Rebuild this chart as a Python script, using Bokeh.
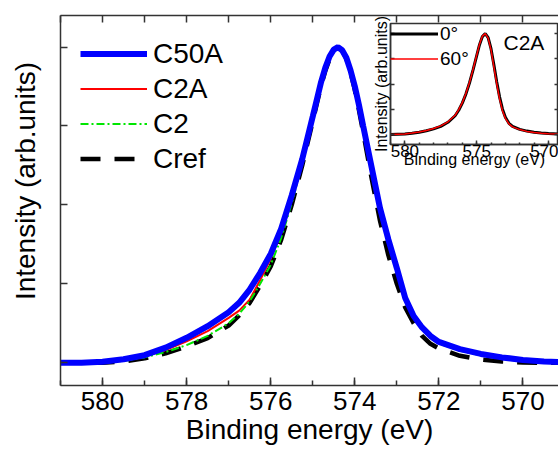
from bokeh.embed import file_html
from bokeh.layouts import column
from bokeh.models import (ColumnDataSource, CustomJSTickFormatter, FixedTicker,
                          Label, Legend, LegendItem, LinearAxis, Range1d)
from bokeh.plotting import figure
from bokeh.resources import INLINE

FONT = "Liberation Sans"
AXIS_COLOR = "#333333"
NBSP = "\u00a0"
W, H = 558, 453

# ---- main panel: C 1s-like spectra, normalised intensity vs binding energy (eV)
energy = [581.0, 580.5, 580.0, 579.5, 579.0, 578.5, 578.0, 577.5, 577.0, 576.75,
          576.5, 576.25, 576.0, 575.75, 575.5, 575.25, 575.0, 574.9, 574.8, 574.7,
          574.6, 574.5, 574.4, 574.3, 574.2, 574.1, 574.0, 573.9, 573.8, 573.6,
          573.4, 573.2, 573.0, 572.8, 572.6, 572.4, 572.2, 572.0, 571.5, 571.0,
          570.5, 570.0, 569.5, 569.15]

c50a = [0.0, 0.0, 0.003, 0.011, 0.024, 0.048, 0.079, 0.116, 0.160, 0.190,
        0.232, 0.285, 0.345, 0.425, 0.530, 0.645, 0.780, 0.835, 0.890, 0.935,
        0.970, 0.992, 1.0, 0.990, 0.966, 0.926, 0.876, 0.816, 0.750, 0.620,
        0.490, 0.390, 0.300, 0.205, 0.148, 0.112, 0.085, 0.066, 0.043, 0.028,
        0.017, 0.009, 0.004, 0.002]

c2a = [0.0, 0.0, 0.002, 0.008, 0.020, 0.040, 0.068, 0.100, 0.142, 0.165,
       0.200, 0.262, 0.330, 0.410, 0.515, 0.637, 0.775, 0.830, 0.885, 0.930,
       0.966, 0.990, 1.0, 0.990, 0.965, 0.924, 0.874, 0.814, 0.748, 0.618,
       0.488, 0.388, 0.298, 0.203, 0.146, 0.110, 0.083, 0.064, 0.041, 0.026,
       0.015, 0.008, 0.003, 0.001]

c2 = [0.0, 0.0, 0.001, 0.006, 0.017, 0.034, 0.056, 0.085, 0.125, 0.155,
      0.195, 0.250, 0.310, 0.395, 0.505, 0.630, 0.770, 0.826, 0.880, 0.927,
      0.963, 0.990, 1.0, 0.990, 0.964, 0.923, 0.872, 0.812, 0.746, 0.615,
      0.485, 0.385, 0.295, 0.200, 0.143, 0.107, 0.080, 0.061, 0.038, 0.023,
      0.013, 0.006, 0.002, 0.0]

cref = [0.0, 0.0, 0.0, 0.004, 0.014, 0.030, 0.052, 0.078, 0.118, 0.150,
        0.190, 0.245, 0.305, 0.390, 0.500, 0.625, 0.765, 0.822, 0.878, 0.925,
        0.962, 0.990, 1.0, 0.990, 0.963, 0.920, 0.865, 0.800, 0.730, 0.585,
        0.450, 0.340, 0.250, 0.175, 0.125, 0.085, 0.060, 0.045, 0.022, 0.010,
        0.004, 0.001, 0.0, 0.0]

series_names = ["C50A", "C2A", "C2", "Cref"]

x_ticks = [570, 572, 574, 576, 578, 580]
x_minor = [569, 570, 571, 572, 573, 574, 575, 576, 577, 578, 579, 580, 581]
y_ticks = [0.0, 0.25, 0.5, 0.75, 1.0]

# ---- inset: C2A at two take-off angles
inset_energy = [581.0, 580.0, 579.5, 579.0, 578.5, 578.0, 577.5, 577.0, 576.5,
                576.25, 576.0, 575.75, 575.5, 575.25, 575.0, 574.8, 574.6, 574.4,
                574.2, 574.0, 573.8, 573.6, 573.4, 573.2, 573.0, 572.75, 572.5,
                572.0, 571.5, 571.0, 570.5, 570.0, 569.3]
angle_0 = [0.0, 0.005, 0.012, 0.022, 0.036, 0.055, 0.080, 0.120, 0.185,
           0.240, 0.310, 0.400, 0.510, 0.640, 0.780, 0.890, 0.970, 1.0,
           0.960, 0.850, 0.690, 0.520, 0.370, 0.250, 0.170, 0.110, 0.080,
           0.050, 0.033, 0.022, 0.014, 0.008, 0.003]
angle_60 = [0.0, 0.005, 0.013, 0.024, 0.038, 0.058, 0.085, 0.125, 0.190,
            0.245, 0.315, 0.405, 0.515, 0.645, 0.785, 0.895, 0.975, 1.0,
            0.955, 0.840, 0.670, 0.500, 0.350, 0.235, 0.160, 0.105, 0.075,
            0.048, 0.030, 0.020, 0.012, 0.007, 0.003]
inset_names = ["0°", "60°"]
inset_x_ticks = [570, 575, 580]


def style_axis(ax, tick_in, minor_in=0, labels=True, size="26px"):
    ax.axis_line_color = AXIS_COLOR
    ax.axis_line_width = 1.5
    ax.major_tick_line_color = AXIS_COLOR
    ax.major_tick_line_width = 1.5
    ax.major_tick_in = tick_in
    ax.major_tick_out = 0
    ax.minor_tick_line_color = AXIS_COLOR if minor_in else None
    ax.minor_tick_line_width = 1.5
    ax.minor_tick_in = minor_in
    ax.minor_tick_out = 0
    ax.major_label_text_font = FONT
    ax.major_label_text_color = "black"
    if labels:
        ax.major_label_text_font_size = size
    else:
        # tick marks only, no numbers on this side
        ax.formatter = CustomJSTickFormatter(code="return ''")
        ax.major_label_text_font_size = "1px"
        ax.major_label_standoff = 0


def style_title(ax, text, size, standoff):
    ax.axis_label = text
    ax.axis_label_text_font = FONT
    ax.axis_label_text_font_size = size
    ax.axis_label_text_font_style = "normal"
    ax.axis_label_text_color = "black"
    ax.axis_label_standoff = standoff


# ================= main figure =================
# a few pixels taller than the page; the column clips the overhang
p = figure(width=W, height=H + 3,
           x_range=Range1d(581.0, 569.154), y_range=Range1d(-0.072, 1.100),
           output_backend="svg", toolbar_location=None,
           min_border_left=60, min_border_right=0,
           min_border_top=15, min_border_bottom=68)
p.outline_line_color = None
p.grid.visible = False
p.background_fill_color = "white"
p.border_fill_color = "white"

src = ColumnDataSource(dict(e=energy, c50a=c50a, c2a=c2a, c2=c2, cref=cref))
r_ref = p.line("e", "cref", source=src, line_color="black", line_width=4.5,
               line_dash="20 14")
r_c2a = p.line("e", "c2a", source=src, line_color="#FF0000", line_width=2)
r_c2 = p.line("e", "c2", source=src, line_color="#00E600", line_width=2,
              line_dash="8 3 2 3")
r_c50 = p.line("e", "c50a", source=src, line_color="#0000FF", line_width=6)

xb = p.xaxis[0]
xb.ticker = FixedTicker(ticks=x_ticks, minor_ticks=x_minor)
style_axis(xb, 8, 5)
xb.major_label_standoff = 6
style_title(xb, "Binding energy (eV)", "28px", 1)

yl = p.yaxis[0]
yl.ticker = FixedTicker(ticks=y_ticks)
style_axis(yl, 7, labels=False)
# leading no-break spaces lift the rotated title a little above the frame centre
style_title(yl, NBSP * 5 + "Intensity (arb.units)", "28px", 20)

top_axis = LinearAxis(ticker=FixedTicker(ticks=x_minor))
style_axis(top_axis, 7, labels=False)
p.add_layout(top_axis, "above")

legend = Legend(items=[LegendItem(label=series_names[0], renderers=[r_c50]),
                       LegendItem(label=series_names[1], renderers=[r_c2a]),
                       LegendItem(label=series_names[2], renderers=[r_c2]),
                       LegendItem(label=series_names[3], renderers=[r_ref])],
                location=(20, 209), orientation="vertical",
                glyph_width=67, glyph_height=35, label_height=35,
                label_standoff=6, spacing=0, padding=0, margin=0,
                border_line_color=None, background_fill_alpha=0,
                label_text_font=FONT, label_text_font_size="28px",
                label_text_color="black")
p.add_layout(legend, "center")

# ================= inset figure =================
# the column lines up left borders, so the inset keeps the same 60 px left border
ins = figure(width=228, height=177,
             x_range=Range1d(581.0, 569.3), y_range=Range1d(-0.1, 1.1),
             output_backend="svg", toolbar_location=None,
             min_border_left=60, min_border_right=0,
             min_border_top=11, min_border_bottom=45)
ins.grid.visible = False
ins.border_fill_alpha = 0
ins.background_fill_color = "white"
ins.outline_line_color = AXIS_COLOR
ins.outline_line_width = 1.5

isrc = ColumnDataSource(dict(e=inset_energy, a0=angle_0, a60=angle_60))
r0 = ins.line("e", "a0", source=isrc, line_color="black", line_width=3)
r60 = ins.line("e", "a60", source=isrc, line_color="#FF0000", line_width=1.5)

ixb = ins.xaxis[0]
ixb.ticker = FixedTicker(ticks=inset_x_ticks, minor_ticks=x_minor)
style_axis(ixb, 4, 2, size="17px")
ixb.major_label_standoff = 0
style_title(ixb, "Binding energy (eV)", "16px", -9)

iyl = ins.yaxis[0]
iyl.ticker = FixedTicker(ticks=y_ticks)
style_axis(iyl, 4, labels=False)
style_title(iyl, "Intensity (arb.units)", "16px", 1)

iyr = LinearAxis(ticker=FixedTicker(ticks=y_ticks))
style_axis(iyr, 4, labels=False)
ins.add_layout(iyr, "right")

ins.add_layout(Label(x=113, y=102, x_units="screen", y_units="screen",
                     text="C2A", text_align="left", text_baseline="middle",
                     text_font=FONT, text_font_size="21px",
                     text_color="black"))

ilegend = Legend(items=[LegendItem(label=inset_names[0], renderers=[r0]),
                        LegendItem(label=inset_names[1], renderers=[r60])],
                 location=(0, 73), orientation="vertical",
                 glyph_width=48, glyph_height=25, label_height=25,
                 label_standoff=2, spacing=0, padding=0, margin=0,
                 border_line_color=None, background_fill_alpha=0,
                 label_text_font=FONT, label_text_font_size="19px",
                 label_text_color="black")
ins.add_layout(ilegend, "center")

ins.styles = {"position": "absolute", "left": "330px", "top": "12px"}

layout = column(p, ins, width=W, height=H)
layout.styles = {"position": "relative", "overflow": "hidden"}

open("out.html", "w").write(file_html(layout, INLINE))
